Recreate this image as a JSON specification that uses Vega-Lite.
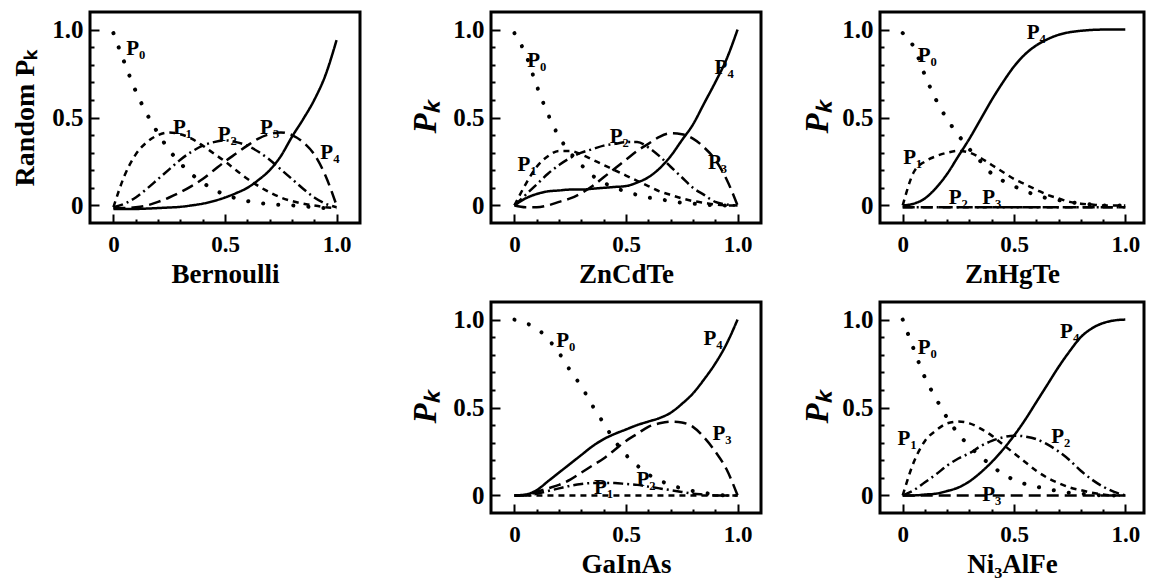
{
  "$schema": "https://vega.github.io/schema/vega-lite/v6.json",
  "background": "white",
  "padding": {"left": 10, "top": 10, "right": 0, "bottom": 0},
  "config": {
    "view": {"stroke": "black", "strokeWidth": 3},
    "axis": {"domain": false, "grid": false, "tickColor": "black", "tickWidth": 2, "labelFont": "Liberation Serif", "labelFontWeight": "bold", "labelFontSize": 25, "labelColor": "black", "titleFont": "Liberation Serif", "titleFontWeight": "bold", "titleFontSize": 28, "titleColor": "black", "labelFlush": false, "labelOverlap": false, "labelBound": false},
    "axisX": {"labelPadding": 19, "labelFontSize": 23, "titlePadding": 0, "titleFontSize": 27},
    "axisY": {"labelPadding": 16, "titlePadding": 10},
    "text": {"font": "Liberation Serif", "fontWeight": "bold", "fontSize": 21, "color": "black"}
  },
  "datasets": {
    "curves": [
      {"p":"B","x":0,"P0":0.98,"P1":-0.01,"P2":-0.01,"P3":-0.015,"P4":-0.02},
      {"p":"B","x":0.05,"P0":0.81,"P1":0.17,"P2":0.01,"P3":-0.015,"P4":-0.02},
      {"p":"B","x":0.1,"P0":0.65,"P1":0.29,"P2":0.045,"P3":-0.01,"P4":-0.02},
      {"p":"B","x":0.15,"P0":0.52,"P1":0.36,"P2":0.095,"P3":0,"P4":-0.018},
      {"p":"B","x":0.2,"P0":0.41,"P1":0.4,"P2":0.15,"P3":0.02,"P4":-0.015},
      {"p":"B","x":0.25,"P0":0.315,"P1":0.415,"P2":0.205,"P3":0.045,"P4":-0.012},
      {"p":"B","x":0.3,"P0":0.24,"P1":0.405,"P2":0.26,"P3":0.075,"P4":-0.008},
      {"p":"B","x":0.35,"P0":0.178,"P1":0.38,"P2":0.305,"P3":0.11,"P4":0},
      {"p":"B","x":0.4,"P0":0.13,"P1":0.34,"P2":0.34,"P3":0.15,"P4":0.01},
      {"p":"B","x":0.45,"P0":0.09,"P1":0.295,"P2":0.36,"P3":0.2,"P4":0.025},
      {"p":"B","x":0.5,"P0":0.062,"P1":0.25,"P2":0.37,"P3":0.25,"P4":0.045},
      {"p":"B","x":0.55,"P0":0.04,"P1":0.2,"P2":0.36,"P3":0.295,"P4":0.07},
      {"p":"B","x":0.6,"P0":0.025,"P1":0.152,"P2":0.34,"P3":0.34,"P4":0.1},
      {"p":"B","x":0.65,"P0":0.014,"P1":0.11,"P2":0.305,"P3":0.38,"P4":0.145},
      {"p":"B","x":0.7,"P0":0.007,"P1":0.075,"P2":0.26,"P3":0.405,"P4":0.2},
      {"p":"B","x":0.75,"P0":0.003,"P1":0.045,"P2":0.205,"P3":0.415,"P4":0.28},
      {"p":"B","x":0.8,"P0":0,"P1":0.025,"P2":0.15,"P3":0.4,"P4":0.39},
      {"p":"B","x":0.85,"P0":-0.005,"P1":0.01,"P2":0.095,"P3":0.36,"P4":0.49},
      {"p":"B","x":0.9,"P0":-0.01,"P1":0,"P2":0.045,"P3":0.29,"P4":0.6},
      {"p":"B","x":0.95,"P0":-0.015,"P1":-0.01,"P2":0.01,"P3":0.17,"P4":0.74},
      {"p":"B","x":1,"P0":-0.015,"P1":-0.015,"P2":-0.01,"P3":0,"P4":0.94},

      {"p":"Z","x":0,"P0":0.98,"P1":0,"P2":0,"P3":0,"P4":0},
      {"p":"Z","x":0.05,"P0":0.86,"P1":0.12,"P2":0.06,"P3":-0.01,"P4":0.04},
      {"p":"Z","x":0.1,"P0":0.68,"P1":0.22,"P2":0.12,"P3":-0.01,"P4":0.065},
      {"p":"Z","x":0.15,"P0":0.52,"P1":0.28,"P2":0.18,"P3":0,"P4":0.08},
      {"p":"Z","x":0.2,"P0":0.39,"P1":0.31,"P2":0.23,"P3":0.02,"P4":0.085},
      {"p":"Z","x":0.25,"P0":0.3,"P1":0.31,"P2":0.27,"P3":0.04,"P4":0.09},
      {"p":"Z","x":0.3,"P0":0.23,"P1":0.29,"P2":0.3,"P3":0.07,"P4":0.09},
      {"p":"Z","x":0.35,"P0":0.17,"P1":0.26,"P2":0.32,"P3":0.11,"P4":0.095},
      {"p":"Z","x":0.4,"P0":0.13,"P1":0.23,"P2":0.34,"P3":0.16,"P4":0.1},
      {"p":"Z","x":0.45,"P0":0.1,"P1":0.2,"P2":0.35,"P3":0.21,"P4":0.105},
      {"p":"Z","x":0.5,"P0":0.08,"P1":0.17,"P2":0.36,"P3":0.26,"P4":0.11},
      {"p":"Z","x":0.55,"P0":0.06,"P1":0.14,"P2":0.36,"P3":0.31,"P4":0.13},
      {"p":"Z","x":0.6,"P0":0.045,"P1":0.11,"P2":0.33,"P3":0.35,"P4":0.16},
      {"p":"Z","x":0.65,"P0":0.035,"P1":0.08,"P2":0.28,"P3":0.39,"P4":0.21},
      {"p":"Z","x":0.7,"P0":0.025,"P1":0.06,"P2":0.22,"P3":0.41,"P4":0.28},
      {"p":"Z","x":0.75,"P0":0.015,"P1":0.04,"P2":0.16,"P3":0.405,"P4":0.37},
      {"p":"Z","x":0.8,"P0":0.01,"P1":0.025,"P2":0.1,"P3":0.38,"P4":0.46},
      {"p":"Z","x":0.85,"P0":0.005,"P1":0.015,"P2":0.06,"P3":0.33,"P4":0.58},
      {"p":"Z","x":0.9,"P0":0,"P1":0.005,"P2":0.02,"P3":0.26,"P4":0.7},
      {"p":"Z","x":0.95,"P0":0,"P1":0,"P2":0.005,"P3":0.15,"P4":0.83},
      {"p":"Z","x":1,"P0":0,"P1":0,"P2":0,"P3":0,"P4":1},

      {"p":"H","x":0,"P0":0.98,"P1":0,"P2":-0.01,"P3":-0.01,"P4":0},
      {"p":"H","x":0.05,"P0":0.9,"P1":0.19,"P2":-0.01,"P3":-0.01,"P4":0.01},
      {"p":"H","x":0.1,"P0":0.74,"P1":0.25,"P2":-0.01,"P3":-0.01,"P4":0.04},
      {"p":"H","x":0.15,"P0":0.6,"P1":0.28,"P2":-0.01,"P3":-0.01,"P4":0.1},
      {"p":"H","x":0.2,"P0":0.49,"P1":0.3,"P2":-0.01,"P3":-0.01,"P4":0.18},
      {"p":"H","x":0.25,"P0":0.4,"P1":0.31,"P2":-0.01,"P3":-0.01,"P4":0.28},
      {"p":"H","x":0.3,"P0":0.32,"P1":0.3,"P2":-0.01,"P3":-0.01,"P4":0.38},
      {"p":"H","x":0.35,"P0":0.25,"P1":0.27,"P2":-0.01,"P3":-0.01,"P4":0.49},
      {"p":"H","x":0.4,"P0":0.18,"P1":0.23,"P2":-0.01,"P3":-0.01,"P4":0.6},
      {"p":"H","x":0.45,"P0":0.14,"P1":0.19,"P2":-0.01,"P3":-0.01,"P4":0.7},
      {"p":"H","x":0.5,"P0":0.11,"P1":0.15,"P2":-0.01,"P3":-0.01,"P4":0.79},
      {"p":"H","x":0.55,"P0":0.08,"P1":0.12,"P2":-0.01,"P3":-0.01,"P4":0.86},
      {"p":"H","x":0.6,"P0":0.06,"P1":0.09,"P2":-0.01,"P3":-0.01,"P4":0.91},
      {"p":"H","x":0.65,"P0":0.04,"P1":0.06,"P2":-0.01,"P3":-0.01,"P4":0.945},
      {"p":"H","x":0.7,"P0":0.03,"P1":0.04,"P2":-0.01,"P3":-0.01,"P4":0.97},
      {"p":"H","x":0.75,"P0":0.02,"P1":0.02,"P2":-0.01,"P3":-0.01,"P4":0.985},
      {"p":"H","x":0.8,"P0":0.01,"P1":0.01,"P2":-0.01,"P3":-0.01,"P4":0.993},
      {"p":"H","x":0.85,"P0":0.005,"P1":0.005,"P2":-0.01,"P3":-0.01,"P4":0.998},
      {"p":"H","x":0.9,"P0":0,"P1":0,"P2":-0.01,"P3":-0.01,"P4":1},
      {"p":"H","x":0.95,"P0":0,"P1":0,"P2":-0.01,"P3":-0.01,"P4":1},
      {"p":"H","x":1,"P0":0,"P1":0,"P2":-0.01,"P3":-0.01,"P4":1},

      {"p":"G","x":0,"P0":1,"P1":0,"P2":0,"P3":0,"P4":0},
      {"p":"G","x":0.05,"P0":0.98,"P1":0,"P2":0,"P3":0,"P4":0.005},
      {"p":"G","x":0.1,"P0":0.95,"P1":0,"P2":0.01,"P3":0.02,"P4":0.03},
      {"p":"G","x":0.15,"P0":0.89,"P1":0,"P2":0.025,"P3":0.04,"P4":0.08},
      {"p":"G","x":0.2,"P0":0.81,"P1":0,"P2":0.04,"P3":0.06,"P4":0.13},
      {"p":"G","x":0.25,"P0":0.71,"P1":0,"P2":0.055,"P3":0.09,"P4":0.18},
      {"p":"G","x":0.3,"P0":0.62,"P1":0,"P2":0.065,"P3":0.13,"P4":0.23},
      {"p":"G","x":0.35,"P0":0.51,"P1":0,"P2":0.07,"P3":0.17,"P4":0.28},
      {"p":"G","x":0.4,"P0":0.41,"P1":0,"P2":0.07,"P3":0.21,"P4":0.32},
      {"p":"G","x":0.45,"P0":0.31,"P1":0,"P2":0.07,"P3":0.26,"P4":0.35},
      {"p":"G","x":0.5,"P0":0.23,"P1":0,"P2":0.065,"P3":0.31,"P4":0.375},
      {"p":"G","x":0.55,"P0":0.17,"P1":0,"P2":0.06,"P3":0.35,"P4":0.4},
      {"p":"G","x":0.6,"P0":0.12,"P1":0,"P2":0.05,"P3":0.39,"P4":0.42},
      {"p":"G","x":0.65,"P0":0.085,"P1":0,"P2":0.04,"P3":0.41,"P4":0.44},
      {"p":"G","x":0.7,"P0":0.06,"P1":0,"P2":0.03,"P3":0.42,"P4":0.47},
      {"p":"G","x":0.75,"P0":0.04,"P1":0,"P2":0.02,"P3":0.415,"P4":0.52},
      {"p":"G","x":0.8,"P0":0.025,"P1":0,"P2":0.01,"P3":0.39,"P4":0.58},
      {"p":"G","x":0.85,"P0":0.015,"P1":0,"P2":0.005,"P3":0.33,"P4":0.66},
      {"p":"G","x":0.9,"P0":0.005,"P1":0,"P2":0,"P3":0.25,"P4":0.75},
      {"p":"G","x":0.95,"P0":0,"P1":0,"P2":0,"P3":0.15,"P4":0.86},
      {"p":"G","x":1,"P0":0,"P1":0,"P2":0,"P3":0,"P4":1},

      {"p":"N","x":0,"P0":1,"P1":0,"P2":0,"P3":0,"P4":0},
      {"p":"N","x":0.05,"P0":0.83,"P1":0.19,"P2":0.03,"P3":0,"P4":0},
      {"p":"N","x":0.1,"P0":0.67,"P1":0.31,"P2":0.075,"P3":0,"P4":0.005},
      {"p":"N","x":0.15,"P0":0.55,"P1":0.37,"P2":0.12,"P3":0,"P4":0.01},
      {"p":"N","x":0.2,"P0":0.44,"P1":0.41,"P2":0.17,"P3":0,"P4":0.025},
      {"p":"N","x":0.25,"P0":0.35,"P1":0.42,"P2":0.21,"P3":0,"P4":0.045},
      {"p":"N","x":0.3,"P0":0.28,"P1":0.41,"P2":0.24,"P3":0,"P4":0.08},
      {"p":"N","x":0.35,"P0":0.22,"P1":0.38,"P2":0.28,"P3":0,"P4":0.13},
      {"p":"N","x":0.4,"P0":0.17,"P1":0.34,"P2":0.31,"P3":0,"P4":0.19},
      {"p":"N","x":0.45,"P0":0.12,"P1":0.29,"P2":0.33,"P3":0,"P4":0.26},
      {"p":"N","x":0.5,"P0":0.09,"P1":0.24,"P2":0.34,"P3":0,"P4":0.34},
      {"p":"N","x":0.55,"P0":0.065,"P1":0.19,"P2":0.335,"P3":0,"P4":0.43},
      {"p":"N","x":0.6,"P0":0.05,"P1":0.14,"P2":0.32,"P3":0,"P4":0.53},
      {"p":"N","x":0.65,"P0":0.035,"P1":0.1,"P2":0.29,"P3":0,"P4":0.63},
      {"p":"N","x":0.7,"P0":0.025,"P1":0.07,"P2":0.25,"P3":0,"P4":0.73},
      {"p":"N","x":0.75,"P0":0.015,"P1":0.045,"P2":0.2,"P3":0,"P4":0.82},
      {"p":"N","x":0.8,"P0":0.01,"P1":0.03,"P2":0.14,"P3":0,"P4":0.9},
      {"p":"N","x":0.85,"P0":0.005,"P1":0.015,"P2":0.09,"P3":0,"P4":0.95},
      {"p":"N","x":0.9,"P0":0,"P1":0.005,"P2":0.05,"P3":0,"P4":0.98},
      {"p":"N","x":0.95,"P0":0,"P1":0,"P2":0.02,"P3":0,"P4":0.995},
      {"p":"N","x":1,"P0":0,"P1":0,"P2":0,"P3":0,"P4":1}
    ],
    "labels": [
      {"p":"B","t":"P₀","x":0.1,"y":0.89},
      {"p":"B","t":"P₁","x":0.31,"y":0.44},
      {"p":"B","t":"P₂","x":0.51,"y":0.4},
      {"p":"B","t":"P₃","x":0.7,"y":0.44},
      {"p":"B","t":"P₄","x":0.97,"y":0.3},
      {"p":"Z","t":"P₀","x":0.1,"y":0.82},
      {"p":"Z","t":"P₁","x":0.057,"y":0.23},
      {"p":"Z","t":"P₂","x":0.47,"y":0.39},
      {"p":"Z","t":"P₃","x":0.91,"y":0.24},
      {"p":"Z","t":"P₄","x":0.94,"y":0.78},
      {"p":"H","t":"P₀","x":0.11,"y":0.85},
      {"p":"H","t":"P₁","x":0.045,"y":0.27},
      {"p":"H","t":"P₂","x":0.25,"y":0.04},
      {"p":"H","t":"P₃","x":0.4,"y":0.04},
      {"p":"H","t":"P₄","x":0.6,"y":0.98},
      {"p":"G","t":"P₀","x":0.23,"y":0.88},
      {"p":"G","t":"P₁","x":0.4,"y":0.04},
      {"p":"G","t":"P₂","x":0.59,"y":0.085},
      {"p":"G","t":"P₃","x":0.93,"y":0.35},
      {"p":"G","t":"P₄","x":0.89,"y":0.89},
      {"p":"N","t":"P₀","x":0.11,"y":0.84},
      {"p":"N","t":"P₁","x":0.02,"y":0.32},
      {"p":"N","t":"P₂","x":0.71,"y":0.33},
      {"p":"N","t":"P₃","x":0.4,"y":0.0},
      {"p":"N","t":"P₄","x":0.75,"y":0.93}
    ]
  },
  "columns": 3,
  "align": "each",
  "bounds": "flush",
  "spacing": {"row": 79, "column": 119},
  "concat": [
    {
      "width": 270, "height": 211,
      "encoding": {
        "x": {"field": "x", "type": "quantitative", "title": "Bernoulli", "scale": {"domain": [-0.105, 1.105], "nice": false, "zero": false},
          "axis": {"values": [0,0.1,0.2,0.3,0.4,0.5,0.6,0.7,0.8,0.9,1], "tickSize": {"condition": {"test": "abs(datum.value*2 - round(datum.value*2)) < 0.001", "value": -9}, "value": -4}, "labelExpr": "abs(datum.value*2 - round(datum.value*2)) < 0.001 ? (datum.value == 0 ? '0' : format(datum.value, '.1f')) : ''"}},
        "y": {"field": "y", "type": "quantitative", "title": "Random Pₖ", "scale": {"domain": [-0.1, 1.1], "nice": false, "zero": false},
          "axis": {"titlePadding": 12, "values": [0,0.1,0.2,0.3,0.4,0.5,0.6,0.7,0.8,0.9,1], "tickSize": {"condition": {"test": "abs(datum.value*2 - round(datum.value*2)) < 0.001", "value": -9}, "value": -4}, "labelExpr": "abs(datum.value*2 - round(datum.value*2)) < 0.001 ? (datum.value == 0 ? '0' : format(datum.value, '.1f')) : ''"}}
      },
      "layer": [
        {"data": {"name": "curves"}, "transform": [{"filter": "datum.p == 'B'"}, {"fold": ["P0","P1","P2","P3","P4"], "as": ["k","y"]}, {"filter": "datum.k != 'P0'"}],
         "mark": {"type": "line", "color": "black", "strokeWidth": 2.5, "interpolate": "monotone"},
         "encoding": {"strokeDash": {"field": "k", "type": "nominal", "legend": null, "scale": {"domain": ["P1","P2","P3","P4"], "range": [[6,5],[10,4,2,4],[12,6],[1,0]]}}}},
        {"data": {"name": "curves"}, "transform": [{"filter": "datum.p == 'B'"}, {"fold": ["P0","P1","P2","P3","P4"], "as": ["k","y"]}, {"filter": "datum.k == 'P0'"}],
         "mark": {"type": "line", "color": "black", "strokeWidth": 4, "strokeCap": "round", "strokeDash": [0.1, 15], "interpolate": "monotone"}},
        {"data": {"name": "labels"}, "transform": [{"filter": "datum.p == 'B'"}],
         "mark": {"type": "text"}, "encoding": {"text": {"field": "t"}}}
      ]
    },
    {
      "width": 270, "height": 211,
      "encoding": {
        "x": {"field": "x", "type": "quantitative", "title": "ZnCdTe", "scale": {"domain": [-0.105, 1.105], "nice": false, "zero": false},
          "axis": {"values": [0,0.1,0.2,0.3,0.4,0.5,0.6,0.7,0.8,0.9,1], "tickSize": {"condition": {"test": "abs(datum.value*2 - round(datum.value*2)) < 0.001", "value": -9}, "value": -4}, "labelExpr": "abs(datum.value*2 - round(datum.value*2)) < 0.001 ? (datum.value == 0 ? '0' : format(datum.value, '.1f')) : ''"}},
        "y": {"field": "y", "type": "quantitative", "title": "Pₖ", "scale": {"domain": [-0.1, 1.1], "nice": false, "zero": false},
          "axis": {"titleFontStyle": "italic", "titleFontSize": 33, "values": [0,0.1,0.2,0.3,0.4,0.5,0.6,0.7,0.8,0.9,1], "tickSize": {"condition": {"test": "abs(datum.value*2 - round(datum.value*2)) < 0.001", "value": -9}, "value": -4}, "labelExpr": "abs(datum.value*2 - round(datum.value*2)) < 0.001 ? (datum.value == 0 ? '0' : format(datum.value, '.1f')) : ''"}}
      },
      "layer": [
        {"data": {"name": "curves"}, "transform": [{"filter": "datum.p == 'Z'"}, {"fold": ["P0","P1","P2","P3","P4"], "as": ["k","y"]}, {"filter": "datum.k != 'P0'"}],
         "mark": {"type": "line", "color": "black", "strokeWidth": 2.5, "interpolate": "monotone"},
         "encoding": {"strokeDash": {"field": "k", "type": "nominal", "legend": null, "scale": {"domain": ["P1","P2","P3","P4"], "range": [[6,5],[10,4,2,4],[12,6],[1,0]]}}}},
        {"data": {"name": "curves"}, "transform": [{"filter": "datum.p == 'Z'"}, {"fold": ["P0","P1","P2","P3","P4"], "as": ["k","y"]}, {"filter": "datum.k == 'P0'"}],
         "mark": {"type": "line", "color": "black", "strokeWidth": 4, "strokeCap": "round", "strokeDash": [0.1, 15], "interpolate": "monotone"}},
        {"data": {"name": "labels"}, "transform": [{"filter": "datum.p == 'Z'"}],
         "mark": {"type": "text"}, "encoding": {"text": {"field": "t"}}}
      ]
    },
    {
      "width": 264, "height": 211,
      "encoding": {
        "x": {"field": "x", "type": "quantitative", "title": "ZnHgTe", "scale": {"domain": [-0.102, 1.084], "nice": false, "zero": false},
          "axis": {"values": [0,0.1,0.2,0.3,0.4,0.5,0.6,0.7,0.8,0.9,1], "tickSize": {"condition": {"test": "abs(datum.value*2 - round(datum.value*2)) < 0.001", "value": -9}, "value": -4}, "labelExpr": "abs(datum.value*2 - round(datum.value*2)) < 0.001 ? (datum.value == 0 ? '0' : format(datum.value, '.1f')) : ''"}},
        "y": {"field": "y", "type": "quantitative", "title": "Pₖ", "scale": {"domain": [-0.1, 1.1], "nice": false, "zero": false},
          "axis": {"titleFontStyle": "italic", "titleFontSize": 33, "titlePadding": 7, "values": [0,0.1,0.2,0.3,0.4,0.5,0.6,0.7,0.8,0.9,1], "tickSize": {"condition": {"test": "abs(datum.value*2 - round(datum.value*2)) < 0.001", "value": -9}, "value": -4}, "labelExpr": "abs(datum.value*2 - round(datum.value*2)) < 0.001 ? (datum.value == 0 ? '0' : format(datum.value, '.1f')) : ''"}}
      },
      "layer": [
        {"data": {"name": "curves"}, "transform": [{"filter": "datum.p == 'H'"}, {"fold": ["P0","P1","P2","P3","P4"], "as": ["k","y"]}, {"filter": "datum.k != 'P0'"}],
         "mark": {"type": "line", "color": "black", "strokeWidth": 2.5, "interpolate": "monotone"},
         "encoding": {"strokeDash": {"field": "k", "type": "nominal", "legend": null, "scale": {"domain": ["P1","P2","P3","P4"], "range": [[6,5],[10,4,2,4],[12,6],[1,0]]}}}},
        {"data": {"name": "curves"}, "transform": [{"filter": "datum.p == 'H'"}, {"fold": ["P0","P1","P2","P3","P4"], "as": ["k","y"]}, {"filter": "datum.k == 'P0'"}],
         "mark": {"type": "line", "color": "black", "strokeWidth": 4, "strokeCap": "round", "strokeDash": [0.1, 15], "interpolate": "monotone"}},
        {"data": {"name": "labels"}, "transform": [{"filter": "datum.p == 'H'"}],
         "mark": {"type": "text"}, "encoding": {"text": {"field": "t"}}}
      ]
    },
    {
      "width": 282, "height": 211,
      "view": {"stroke": null},
      "data": {"values": [{}]},
      "mark": {"type": "text", "text": ""}
    },
    {
      "width": 270, "height": 211,
      "encoding": {
        "x": {"field": "x", "type": "quantitative", "title": "GaInAs", "scale": {"domain": [-0.105, 1.105], "nice": false, "zero": false},
          "axis": {"values": [0,0.1,0.2,0.3,0.4,0.5,0.6,0.7,0.8,0.9,1], "tickSize": {"condition": {"test": "abs(datum.value*2 - round(datum.value*2)) < 0.001", "value": -9}, "value": -4}, "labelExpr": "abs(datum.value*2 - round(datum.value*2)) < 0.001 ? (datum.value == 0 ? '0' : format(datum.value, '.1f')) : ''"}},
        "y": {"field": "y", "type": "quantitative", "title": "Pₖ", "scale": {"domain": [-0.1, 1.1], "nice": false, "zero": false},
          "axis": {"titleFontStyle": "italic", "titleFontSize": 33, "values": [0,0.1,0.2,0.3,0.4,0.5,0.6,0.7,0.8,0.9,1], "tickSize": {"condition": {"test": "abs(datum.value*2 - round(datum.value*2)) < 0.001", "value": -9}, "value": -4}, "labelExpr": "abs(datum.value*2 - round(datum.value*2)) < 0.001 ? (datum.value == 0 ? '0' : format(datum.value, '.1f')) : ''"}}
      },
      "layer": [
        {"data": {"name": "curves"}, "transform": [{"filter": "datum.p == 'G'"}, {"fold": ["P0","P1","P2","P3","P4"], "as": ["k","y"]}, {"filter": "datum.k != 'P0'"}],
         "mark": {"type": "line", "color": "black", "strokeWidth": 2.5, "interpolate": "monotone"},
         "encoding": {"strokeDash": {"field": "k", "type": "nominal", "legend": null, "scale": {"domain": ["P1","P2","P3","P4"], "range": [[6,5],[10,4,2,4],[12,6],[1,0]]}}}},
        {"data": {"name": "curves"}, "transform": [{"filter": "datum.p == 'G'"}, {"fold": ["P0","P1","P2","P3","P4"], "as": ["k","y"]}, {"filter": "datum.k == 'P0'"}],
         "mark": {"type": "line", "color": "black", "strokeWidth": 4, "strokeCap": "round", "strokeDash": [0.1, 15], "interpolate": "monotone"}},
        {"data": {"name": "labels"}, "transform": [{"filter": "datum.p == 'G'"}],
         "mark": {"type": "text"}, "encoding": {"text": {"field": "t"}}}
      ]
    },
    {
      "width": 264, "height": 211,
      "encoding": {
        "x": {"field": "x", "type": "quantitative", "title": "Ni₃AlFe", "scale": {"domain": [-0.102, 1.084], "nice": false, "zero": false},
          "axis": {"values": [0,0.1,0.2,0.3,0.4,0.5,0.6,0.7,0.8,0.9,1], "tickSize": {"condition": {"test": "abs(datum.value*2 - round(datum.value*2)) < 0.001", "value": -9}, "value": -4}, "labelExpr": "abs(datum.value*2 - round(datum.value*2)) < 0.001 ? (datum.value == 0 ? '0' : format(datum.value, '.1f')) : ''"}},
        "y": {"field": "y", "type": "quantitative", "title": "Pₖ", "scale": {"domain": [-0.1, 1.1], "nice": false, "zero": false},
          "axis": {"titleFontStyle": "italic", "titleFontSize": 33, "titlePadding": 7, "values": [0,0.1,0.2,0.3,0.4,0.5,0.6,0.7,0.8,0.9,1], "tickSize": {"condition": {"test": "abs(datum.value*2 - round(datum.value*2)) < 0.001", "value": -9}, "value": -4}, "labelExpr": "abs(datum.value*2 - round(datum.value*2)) < 0.001 ? (datum.value == 0 ? '0' : format(datum.value, '.1f')) : ''"}}
      },
      "layer": [
        {"data": {"name": "curves"}, "transform": [{"filter": "datum.p == 'N'"}, {"fold": ["P0","P1","P2","P3","P4"], "as": ["k","y"]}, {"filter": "datum.k != 'P0'"}],
         "mark": {"type": "line", "color": "black", "strokeWidth": 2.5, "interpolate": "monotone"},
         "encoding": {"strokeDash": {"field": "k", "type": "nominal", "legend": null, "scale": {"domain": ["P1","P2","P3","P4"], "range": [[6,5],[10,4,2,4],[12,6],[1,0]]}}}},
        {"data": {"name": "curves"}, "transform": [{"filter": "datum.p == 'N'"}, {"fold": ["P0","P1","P2","P3","P4"], "as": ["k","y"]}, {"filter": "datum.k == 'P0'"}],
         "mark": {"type": "line", "color": "black", "strokeWidth": 4, "strokeCap": "round", "strokeDash": [0.1, 15], "interpolate": "monotone"}},
        {"data": {"name": "labels"}, "transform": [{"filter": "datum.p == 'N'"}],
         "mark": {"type": "text"}, "encoding": {"text": {"field": "t"}}}
      ]
    }
  ]
}
